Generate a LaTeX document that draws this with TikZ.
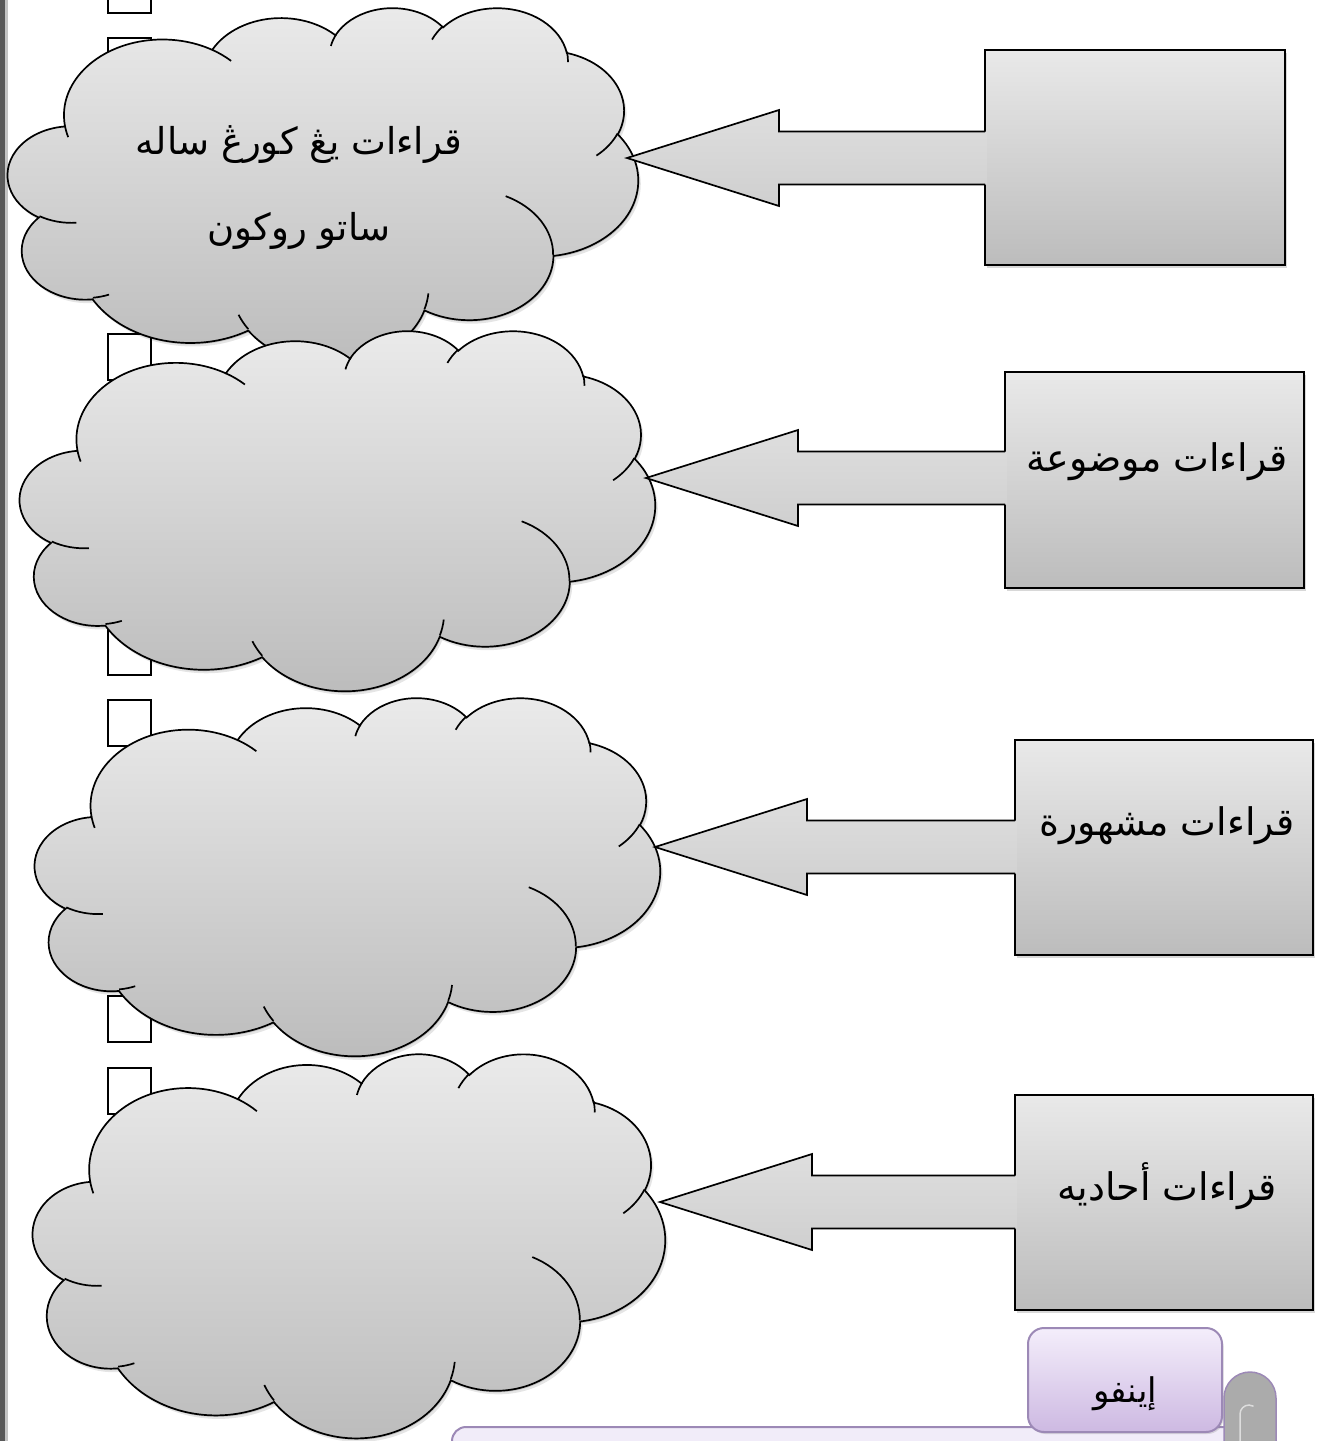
\documentclass[tikz,border=0pt]{standalone}
\usepackage{fontspec}
\usetikzlibrary{calc,shadows}
\newfontfamily\arabicfont[Script=Arabic]{DejaVu Sans}
\TeXXeTstate=1
\definecolor{cloudTop}{HTML}{EBEBEB}
\definecolor{cloudBot}{HTML}{BBBBBB}
\definecolor{rectTop}{HTML}{E9E9E9}
\definecolor{rectBot}{HTML}{BCBCBC}
\definecolor{arrTop}{HTML}{DEDEDE}
\definecolor{arrBot}{HTML}{CFCFCF}
\definecolor{barDark}{HTML}{595959}
\definecolor{barLight}{HTML}{C4C4C4}
\definecolor{infoTop}{HTML}{F4EEFB}
\definecolor{infoBot}{HTML}{CDB9E2}
\definecolor{infoLine}{HTML}{9C89B6}
\definecolor{scrollFill}{HTML}{F1ECF9}
\definecolor{curlGray}{HTML}{ABABAB}

% OOXML arcTo (visual angles) -> TikZ parametric angles
\pgfmathdeclarefunction{oopar}{3}{\pgfmathparse{atan2((#1)*sin(#3),(#2)*cos(#3))}}
\pgfmathdeclarefunction{oodel}{4}{\pgfmathparse{(oopar(#1,#2,#3+#4)-oopar(#1,#2,#3))-360*round((oopar(#1,#2,#3+#4)-oopar(#1,#2,#3)-(#4))/360)}}
\newcommand\oa[4]{arc[start angle={oopar(#1,#2,#3)},delta angle={oodel(#1,#2,#3,#4)},x radius=#1,y radius=#2]}

\newcommand\cloudmain{(3.900,14.370)
 \oa{6.753}{9.190}{-190.4875}{123.7805}
 \oa{5.333}{7.267}{-144.1024}{89.9452}
 \oa{4.365}{5.945}{-145.8079}{99.7230}
 \oa{4.857}{6.595}{-130.9861}{117.2417}
 \oa{5.333}{7.273}{-78.7089}{109.0269}
 \oa{6.775}{9.220}{-46.2673}{130.2690}
 \oa{5.785}{7.867}{0.6250}{114.0333}
 \oa{6.752}{9.215}{22.4516}{115.1726}
 \oa{7.720}{10.543}{66.2426}{75.7110}
 \oa{4.360}{5.918}{-274.9421}{146.7356}
 \oa{4.345}{5.945}{-246.8285}{152.5189} -- cycle}

\newcommand\cloudinner{%
 (4.693,26.177) \oa{4.345}{5.945}{86.7420}{26.4295}
 (6.928,34.899) \oa{4.360}{5.918}{73.6105}{11.4475}
 (16.478,39.090) \oa{6.752}{9.215}{137.6241}{14.0811}
 (28.827,34.751) \oa{6.752}{9.215}{6.4533}{15.9984}
 (34.129,22.954) \oa{5.785}{7.867}{-70.2924}{70.9174}
 (41.798,15.354) \oa{5.333}{7.273}{30.3180}{27.7515}
 (38.324,5.426) \oa{4.857}{6.595}{-13.7443}{14.8589}
 (29.078,3.952) \oa{4.857}{6.595}{-149.1815}{18.1954}
 (22.141,4.720) \oa{4.365}{5.945}{-163.4943}{17.6864}
 (14.000,5.192) \oa{6.753}{9.190}{-66.7070}{12.3194}
 (4.127,15.789) \oa{6.753}{9.190}{157.6544}{11.8582}}

\newcommand\cloudat[4]{%
 \begin{scope}[shift={(#1+2.5,#2+3.5)},xscale=#3/43.2,yscale=#4/43.2]
   \fill[black,opacity=.10] \cloudmain;
 \end{scope}
 \begin{scope}[shift={(#1+1,#2+1.5)},xscale=#3/43.2,yscale=#4/43.2]
   \fill[black,opacity=.15] \cloudmain;
 \end{scope}
 \begin{scope}[shift={(#1,#2)},xscale=#3/43.2,yscale=#4/43.2]
   \path[cloudbody] \cloudmain;
   \draw[cloudline] \cloudinner;
 \end{scope}}

\newcommand\blockarrow[2]{%
 \path[arrowfill] let \p1=(#1), \p2=(#2.west) in
   (\x2+2pt,\y1+26.5pt) -- (\x1+152pt,\y1+26.5pt) -- (\x1+152pt,\y1+48pt) -- (\x1,\y1)
   -- (\x1+152pt,\y1-48pt) -- (\x1+152pt,\y1-26.5pt) -- (\x2+2pt,\y1-26.5pt) -- cycle;
 \draw[arrowline] let \p1=(#1), \p2=(#2.west) in
   (\x2,\y1+26.5pt) -- (\x1+152pt,\y1+26.5pt) -- (\x1+152pt,\y1+48pt) -- (\x1,\y1)
   -- (\x1+152pt,\y1-48pt) -- (\x1+152pt,\y1-26.5pt) -- (\x2,\y1-26.5pt);}

\begin{document}
\begin{tikzpicture}[x=1pt,y=-1pt,
  cloudbody/.style={draw=black,line width=1.7pt,top color=cloudTop,bottom color=cloudBot},
  cloudline/.style={draw=black,line width=1.7pt},
  rectbox/.style={draw=black,line width=2pt,top color=rectTop,bottom color=rectBot,inner sep=0pt,outer sep=0pt,
     drop shadow={opacity=.3,shadow xshift=2pt,shadow yshift=-3pt}},
  arrowfill/.style={top color=arrTop,bottom color=arrBot},
  arrowline/.style={draw=black,line width=1.7pt,line join=miter},
  boxsq/.style={draw=black,line width=2.5pt,fill=white},
  arlabel/.style={font=\arabicfont\fontsize{38}{44}\selectfont,inner sep=0pt},
]
\useasboundingbox (0,0) rectangle (1317,1441);
\clip (0,0) rectangle (1317,1441);
\fill[white] (0,0) rectangle (1317,1441);
\fill[barDark] (0,0) rectangle (5,1441);
\fill[barLight] (5,0) rectangle (8,1441);

% small squares behind the clouds
\foreach \ya/\yb in {-33/13, 38/84, 334/380, 629/675, 700/746, 996/1042, 1068/1114}
  \draw[boxsq] (108,\ya) rectangle (151,\yb);

% clouds
\cloudat{8}{7}{630}{356}
\cloudat{20}{330}{635}{360}
\cloudat{35}{697}{625}{358}
\cloudat{33}{1053}{632}{384}
\coordinate (c1) at (627,158);
\coordinate (c2) at (646,478);
\coordinate (c3) at (655,847);
\coordinate (c4) at (660,1202);

% rectangles
\node[rectbox,minimum width=300pt,minimum height=215pt] (r1) at (1135,157.5) {};
\node[rectbox,minimum width=299pt,minimum height=216pt] (r2) at (1154.5,480) {};
\node[rectbox,minimum width=298pt,minimum height=215pt] (r3) at (1164,847.5) {};
\node[rectbox,minimum width=298pt,minimum height=215pt] (r4) at (1164,1202.5) {};

% block arrows
\blockarrow{c1}{r1}
\blockarrow{c2}{r2}
\blockarrow{c3}{r3}
\blockarrow{c4}{r4}

% texts
\node[arlabel,align=center,font=\arabicfont\fontsize{37}{86}\selectfont] (t1) at (299,188)
  {\beginR قراءات يڠ كورڠ ساله\endR\\\beginR ساتو روكون\endR};
\node[arlabel] (t2) at (1157,462) {\beginR قراءات موضوعة\endR};
\node[arlabel] (t3) at (1167,826) {\beginR قراءات مشهورة\endR};
\node[arlabel] (t4) at (1167,1186) {\beginR قراءات أحاديه\endR};

% scroll at the bottom
\draw[infoLine,line width=2pt,fill=scrollFill,rounded corners=14pt]
  (452,1480) -- (452,1427) -- (1276,1427) -- (1276,1480);
\draw[infoLine,line width=1.5pt,fill=curlGray]
  (1224,1445) -- (1224,1398) arc[start angle=180,end angle=360,radius=26] -- (1276,1445);
\draw[curlGray!40!white,line width=1.5pt] (1240,1441) -- (1240,1414) arc[start angle=180,end angle=300,radius=9];

\node[draw=infoLine,line width=2pt,rounded corners=16pt,top color=infoTop,bottom color=infoBot,
  minimum width=194pt,minimum height=104pt,inner sep=0pt,
  drop shadow={opacity=.25,shadow xshift=1.5pt,shadow yshift=-2pt}] (info) at (1125,1380) {};
\node[font=\arabicfont\fontsize{34}{40}\selectfont,inner sep=0pt] (infotext) at (info.center) [yshift=-14pt] {\beginR إينفو\endR};
\end{tikzpicture}
\end{document}
